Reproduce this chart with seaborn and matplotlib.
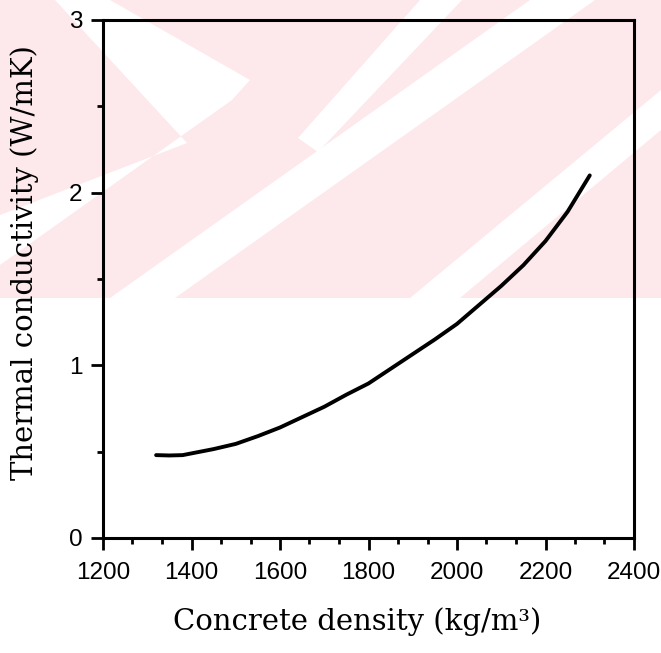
import matplotlib
matplotlib.use("Agg")
import matplotlib.pyplot as plt
from matplotlib.patches import Polygon
from matplotlib.ticker import MultipleLocator
import seaborn as sns
import pandas as pd

# values
density = [1320, 1350, 1380, 1400, 1450, 1500, 1550, 1600, 1650, 1700, 1750,
           1800, 1850, 1900, 1950, 2000, 2050, 2100, 2150, 2200, 2250, 2300]
conductivity = [0.48, 0.478, 0.48, 0.49, 0.515, 0.545, 0.59, 0.64, 0.70, 0.76, 0.83,
                0.895, 0.98, 1.065, 1.15, 1.24, 1.35, 1.46, 1.58, 1.72, 1.89, 2.10]
x_ticks = [1200, 1400, 1600, 1800, 2000, 2200, 2400]
y_ticks = [0, 1, 2, 3]

W, H = 661, 653

# faint pink watermark of the scan (pixel coords, y down)
pink_band = [(0, 0), (661, 0), (661, 298), (0, 298)]
white_gaps = [
    [(55, 0), (110, 0), (250, 80), (232, 100), (0, 265), (0, 215), (187, 143)],
    [(110, 298), (175, 298), (595, 0), (530, 0)],
    [(420, 0), (462, 0), (318, 152), (298, 138)],
    [(410, 298), (460, 298), (661, 130), (661, 90)],
]


def to_fig(pts):
    return [(x / W, 1 - y / H) for x, y in pts]


sns.set_theme(style="ticks")
plt.rcParams["font.family"] = ["Liberation Sans", "DejaVu Sans"]

fig = plt.figure(figsize=(W / 100, H / 100), dpi=100)
fig.add_artist(Polygon(to_fig(pink_band), closed=True, transform=fig.transFigure,
                       facecolor="#fde8ec", edgecolor="none", zorder=0))
for g in white_gaps:
    fig.add_artist(Polygon(to_fig(g), closed=True, transform=fig.transFigure,
                           facecolor="white", edgecolor="none", zorder=0))

ax = fig.add_axes([103 / W, 1 - 538 / H, 531 / W, 518 / H])
ax.set_facecolor("none")

df = pd.DataFrame({"density": density, "conductivity": conductivity})
sns.lineplot(data=df, x="density", y="conductivity", ax=ax, color="black", linewidth=2.8)

ax.set_xlim(1200, 2400)
ax.set_ylim(0, 3)
ax.set_xticks(x_ticks)
ax.set_yticks(y_ticks)
ax.xaxis.set_minor_locator(MultipleLocator(200 / 3))
ax.yaxis.set_minor_locator(MultipleLocator(0.5))
ax.tick_params(which="major", length=8.5, width=2, color="black", labelsize=17.5,
               labelcolor="black")
ax.tick_params(axis="x", which="major", pad=8.5)
ax.tick_params(axis="y", which="major", pad=6.5)
ax.tick_params(which="minor", length=4.5, width=2, color="black")
for s in ax.spines.values():
    s.set_linewidth(2.2)
    s.set_color("black")

ax.set_xlabel("Concrete density (kg/m³)", family="DejaVu Serif", fontsize=21, color="black")
ax.xaxis.set_label_coords(0.478, -0.162)
ax.xaxis.label.set_va("center")
ax.set_ylabel("Thermal conductivity (W/mK)", family="DejaVu Serif", fontsize=21, color="black")
ax.yaxis.set_label_coords(-0.147, 0.531)
ax.yaxis.label.set_va("center")

fig.savefig("out.png", dpi=100)
